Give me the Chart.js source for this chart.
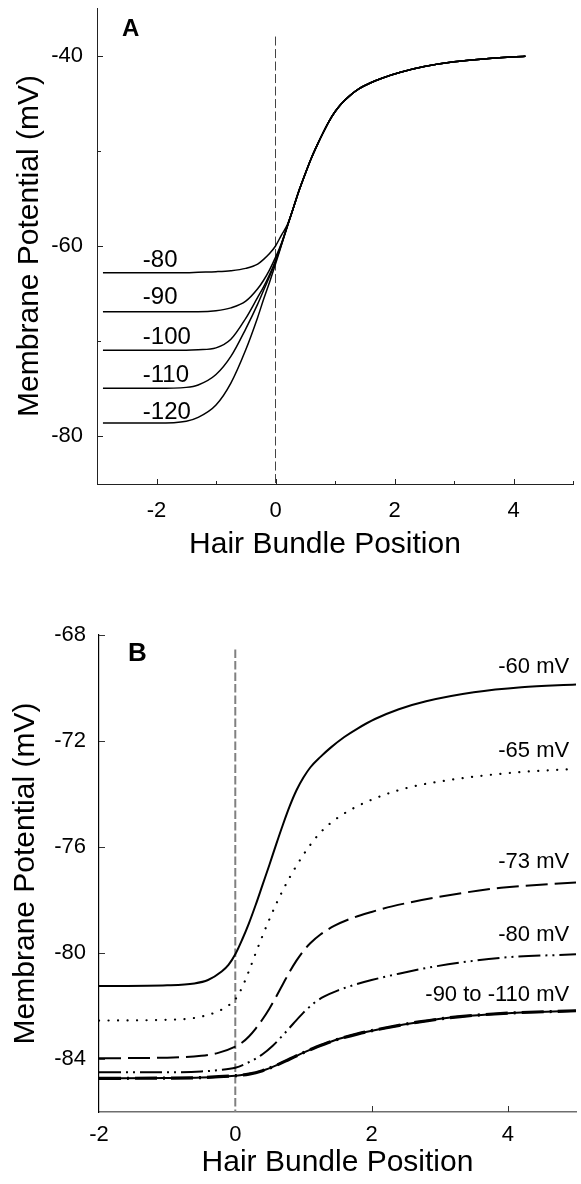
<!DOCTYPE html>
<html><head><meta charset="utf-8">
<script src="https://cdn.jsdelivr.net/npm/chart.js@4.4.1/dist/chart.umd.min.js"></script>
<style>
html,body{margin:0;padding:0;background:#fff;width:581px;height:1184px;overflow:hidden}
.box{position:absolute;left:0;width:581px}
#wa{top:0;height:580px}
#wb{top:590px;height:594px}
</style></head><body>
<div id="wa" class="box"><canvas id="ca"></canvas></div>
<div id="wb" class="box"><canvas id="cb"></canvas></div>
<script>
const FONT = "'Liberation Sans', Arial, Helvetica, sans-serif";

// ---------- Panel A data ----------
const aX    = [-2.9, -2.0, -1.5, -1.3, -1.0, -0.75, -0.5, -0.3, -0.2, -0.1, 0, 0.1, 0.2];
const aV80  = [-62.8, -62.8, -62.8, -62.75, -62.7, -62.6, -62.35, -61.9, -61.4, -60.8, -60.0, -58.85, -57.75];
const aV90  = [-66.9, -66.9, -66.9, -66.9, -66.8, -66.5, -65.8, -64.5, -63.6, -62.5, -61.2, -59.7, -57.9];
const aV100 = [-70.95, -70.95, -70.95, -70.9, -70.7, -69.8, -67.6, -65.4, -64.3, -63.0, -61.55, -59.8, -57.9];
const aV110 = [-74.95, -74.95, -74.85, -74.6, -73.5, -71.6, -68.7, -66.1, -64.65, -63.2, -61.65, -59.85, -57.9];
const aV120 = [-78.6, -78.6, -78.4, -78.0, -76.7, -74.4, -70.9, -67.5, -65.6, -63.8, -61.9, -59.9, -57.9];
const aTailX = [0.3, 0.4, 0.5, 0.6, 0.7, 0.8, 0.9, 1.0, 1.1, 1.25, 1.4, 1.6, 1.8, 2.1, 2.5, 3.0, 3.5, 4.2];
const aTailY = [-56.0, -54.1, -52.4, -50.8, -49.4, -48.1, -46.9, -45.9, -45.1, -44.2, -43.5, -42.85, -42.35, -41.75, -41.15, -40.65, -40.35, -40.07];
const aSeriesNames = ['-80', '-90', '-100', '-110', '-120'];
const aRefX = [0, 0];
const aRefY = [-38, -85];
const aYTickLabels = [-80, -60, -40];
const aXTickLabels = [-2, 0, 2, 4];
const aYMinor = [-70, -50];
const aXMinor = [-1, 1, 3, 5];

// ---------- Panel B data ----------
const bX60 = [-2, -1, -0.6, -0.4, -0.2, -0.1, 0, 0.1, 0.2, 0.3, 0.4, 0.5, 0.6, 0.7, 0.8, 0.9, 1.0, 1.1, 1.25, 1.4, 1.6, 1.8, 2.05, 2.4, 2.8, 3.5, 4.2, 5];
const bY60 = [-81.25, -81.22, -81.15, -81.02, -80.7, -80.45, -80.05, -79.5, -78.88, -78.18, -77.43, -76.68, -75.9, -75.15, -74.45, -73.85, -73.38, -73.0, -72.6, -72.25, -71.85, -71.52, -71.17, -70.8, -70.5, -70.16, -69.97, -69.87];
const bX65 = [-2, -1, -0.6, -0.3, -0.1, 0, 0.1, 0.2, 0.3, 0.4, 0.5, 0.6, 0.7, 0.8, 0.9, 1.05, 1.25, 1.5, 1.8, 2.2, 2.6, 3.4, 4.2, 5];
const bY65 = [-82.55, -82.52, -82.45, -82.25, -81.98, -81.75, -81.3, -80.68, -80.0, -79.35, -78.73, -78.15, -77.62, -77.14, -76.7, -76.1, -75.45, -74.9, -74.45, -74.02, -73.72, -73.38, -73.17, -73.05];
const bX73 = [-2, -1, -0.5, -0.25, 0, 0.1, 0.2, 0.3, 0.4, 0.5, 0.6, 0.7, 0.8, 0.9, 1.0, 1.1, 1.25, 1.45, 1.75, 2.0, 2.3, 2.95, 3.9, 5];
const bY73 = [-83.97, -83.95, -83.88, -83.77, -83.53, -83.38, -83.15, -82.85, -82.5, -82.1, -81.65, -81.17, -80.7, -80.28, -79.92, -79.63, -79.3, -78.98, -78.65, -78.45, -78.24, -77.9, -77.54, -77.34];
const bX80 = [-2, -1, -0.5, -0.25, 0, 0.2, 0.4, 0.55, 0.7, 0.85, 1.0, 1.15, 1.3, 1.5, 1.75, 2.0, 2.4, 2.95, 3.9, 5];
const bY80 = [-84.5, -84.5, -84.47, -84.42, -84.33, -84.12, -83.82, -83.5, -83.1, -82.67, -82.25, -81.9, -81.65, -81.42, -81.2, -81.02, -80.78, -80.5, -80.18, -80.05];
const bX90 = [-2, -1, -0.5, 0, 0.2, 0.4, 0.6, 0.8, 1.0, 1.2, 1.45, 1.8, 2.2, 2.7, 3.3, 4.0, 5];
const bY90 = [-84.73, -84.72, -84.7, -84.63, -84.57, -84.44, -84.24, -84.0, -83.76, -83.54, -83.3, -83.05, -82.83, -82.6, -82.4, -82.27, -82.18];
const bSeriesNames = ['-60 mV', '-65 mV', '-73 mV', '-80 mV', '-90 to -110 mV'];
const bRefX = [0, 0];
const bRefY = [-68.55, -86];
const bYTickLabels = [-84, -80, -76, -72, -68];
const bXTickLabels = [-2, 0, 2, 4];

// ---------- helpers ----------
const pts = (xs, ys) => xs.map((x, i) => ({ x: x, y: ys[i] }));
const withTail = (vals) => pts(aX, vals).concat(pts(aTailX, aTailY));

function makeDecor(spec) {
  return {
    id: 'decor',
    afterDraw(chart) {
      const { ctx, chartArea: ca, scales: { x, y } } = chart;
      ctx.save();
      ctx.strokeStyle = spec.tickColor;
      ctx.lineWidth = 1;
      ctx.beginPath();
      spec.xTicks.forEach(t => {
        const px = Math.round(x.getPixelForValue(t.v)) + 0.5;
        ctx.moveTo(px, ca.bottom); ctx.lineTo(px, ca.bottom - t.len);
      });
      spec.yTicks.forEach(t => {
        const py = Math.round(y.getPixelForValue(t.v)) + 0.5;
        ctx.moveTo(ca.left, py); ctx.lineTo(ca.left + t.len, py);
      });
      ctx.stroke();
      ctx.fillStyle = '#000';
      ctx.textBaseline = 'middle';
      spec.labels.forEach(l => {
        ctx.font = spec.labelFont;
        ctx.textAlign = spec.labelAlign;
        ctx.fillText(l.text, x.getPixelForValue(l.x), y.getPixelForValue(l.y));
      });
      ctx.font = spec.letterFont;
      ctx.textAlign = 'left';
      ctx.textBaseline = 'alphabetic';
      ctx.fillText(spec.letter, ca.left + spec.letterDx, ca.top + spec.letterDy);
      if (spec.xTitle) {
        ctx.font = spec.xTitle.font;
        ctx.textAlign = 'center';
        ctx.textBaseline = 'middle';
        ctx.fillText(spec.xTitle.text, (ca.left + ca.right) / 2 + spec.xTitle.dx, ca.bottom + spec.xTitle.dy);
      }
      ctx.restore();
    }
  };
}

const fitX = (h) => (s) => { s.height = h; s.paddingLeft = 0; s.paddingRight = 0; };
const fitY = (w) => (s) => { s.width = w; s.paddingTop = 0; s.paddingBottom = 0; };

const common = {
  responsive: true,
  maintainAspectRatio: false,
  animation: false,
  events: [],
  plugins: { legend: { display: false }, tooltip: { enabled: false } },
  elements: { point: { radius: 0, hoverRadius: 0 } }
};

// ---------- Chart A ----------
const aLineStyle = { borderColor: '#000', borderWidth: 1.5, fill: false, cubicInterpolationMode: 'monotone', pointRadius: 0 };
const aSets = [aV80, aV90, aV100, aV110, aV120].map((v, i) => Object.assign({ label: aSeriesNames[i], data: withTail(v) }, aLineStyle));
aSets.push({ label: 'ref', data: pts(aRefX, aRefY), borderColor: '#444', borderWidth: 1, borderDash: [9, 3.5], tension: 0, pointRadius: 0, fill: false });

new Chart(document.getElementById('ca'), {
  type: 'line',
  data: { datasets: aSets },
  options: Object.assign({}, common, {
    layout: { padding: { left: 0, right: 8, top: 8, bottom: 0 } },
    scales: {
      x: {
        type: 'linear', min: -3, max: 5,
        afterFit: fitX(96),
        afterBuildTicks: s => { s.ticks = aXTickLabels.map(v => ({ value: v })); },
        grid: { display: false, drawTicks: false },
        border: { display: true, color: '#222', width: 1 },
        ticks: { padding: 14, color: '#000', font: { family: FONT, size: 22 }, maxRotation: 0, autoSkip: false },
        title: { display: false }
      },
      y: {
        type: 'linear', min: -85, max: -35,
        afterFit: fitY(97),
        afterBuildTicks: s => { s.ticks = aYTickLabels.map(v => ({ value: v })); },
        grid: { display: false, drawTicks: false },
        border: { display: true, color: '#222', width: 1 },
        ticks: { padding: 14, color: '#000', font: { family: FONT, size: 22 }, autoSkip: false },
        title: { display: true, text: 'Membrane Potential (mV)', color: '#000', font: { family: FONT, size: 30 }, padding: { top: 12, bottom: 0 } }
      }
    }
  }),
  plugins: [makeDecor({
    tickColor: '#222',
    xTicks: aXTickLabels.map(v => ({ v: v, len: 5 })).concat(aXMinor.map(v => ({ v: v, len: 3 }))),
    yTicks: aYTickLabels.map(v => ({ v: v, len: 6 })).concat(aYMinor.map(v => ({ v: v, len: 4 }))),
    labelFont: '24px ' + FONT,
    labelAlign: 'left',
    labels: [
      { text: aSeriesNames[0], x: -2.23, y: -61.5 },
      { text: aSeriesNames[1], x: -2.23, y: -65.4 },
      { text: aSeriesNames[2], x: -2.23, y: -69.6 },
      { text: aSeriesNames[3], x: -2.23, y: -73.6 },
      { text: aSeriesNames[4], x: -2.23, y: -77.5 }
    ],
    letter: 'A', letterFont: 'bold 24px ' + FONT, letterDx: 25, letterDy: 28,
    xTitle: { text: 'Hair Bundle Position', font: '30px ' + FONT, dx: -10, dy: 61 }
  })]
});

// ---------- Chart B ----------
const bBase = { borderColor: '#000', borderWidth: 2, fill: false, cubicInterpolationMode: 'monotone', pointRadius: 0 };
const bSets = [
  Object.assign({ label: bSeriesNames[0], data: pts(bX60, bY60) }, bBase),
  Object.assign({ label: bSeriesNames[1], data: pts(bX65, bY65) }, bBase, { borderDash: [0.1, 9.4], borderCapStyle: 'round', borderWidth: 2.2 }),
  Object.assign({ label: bSeriesNames[2], data: pts(bX73, bY73) }, bBase, { borderDash: [22, 7] }),
  Object.assign({ label: bSeriesNames[3], data: pts(bX80, bY80) }, bBase, { borderDash: [22, 5, 2, 5, 2, 5] }),
  Object.assign({ label: bSeriesNames[4], data: pts(bX90, bY90) }, bBase, { borderWidth: 2 }),
  Object.assign({ label: bSeriesNames[4] + ' (overlay)', data: pts(bX90, bY90) }, bBase, { borderWidth: 3.2, borderDash: [22, 6, 2, 6] }),
  { label: 'ref', data: pts(bRefX, bRefY), borderColor: '#808080', borderWidth: 2, borderDash: [8.5, 3], tension: 0, pointRadius: 0, fill: false }
];

new Chart(document.getElementById('cb'), {
  type: 'line',
  data: { datasets: bSets },
  options: Object.assign({}, common, {
    layout: { padding: { left: 0, right: 5, top: 45, bottom: 0 } },
    scales: {
      x: {
        type: 'linear', min: -2, max: 5,
        afterFit: fitX(72),
        afterBuildTicks: s => { s.ticks = bXTickLabels.map(v => ({ value: v })); },
        grid: { display: false, drawTicks: false },
        border: { display: true, color: '#6e6e6e', width: 1.5 },
        ticks: { padding: 10, color: '#000', font: { family: FONT, size: 22 }, maxRotation: 0, autoSkip: false },
        title: { display: true, text: 'Hair Bundle Position', color: '#000', font: { family: FONT, size: 30 }, padding: { top: 0, bottom: 3 } }
      },
      y: {
        type: 'linear', min: -86, max: -68,
        afterFit: fitY(99),
        afterBuildTicks: s => { s.ticks = bYTickLabels.map(v => ({ value: v })); },
        grid: { display: false, drawTicks: false },
        border: { display: true, color: '#000', width: 1.2 },
        ticks: { padding: 13, color: '#000', font: { family: FONT, size: 22 }, autoSkip: false },
        title: { display: true, text: 'Membrane Potential (mV)', color: '#000', font: { family: FONT, size: 30 }, padding: { top: 8, bottom: 0 } }
      }
    }
  }),
  plugins: [makeDecor({
    tickColor: '#333',
    xTicks: [2, 4].map(v => ({ v: v, len: 6 })),
    yTicks: bYTickLabels.map(v => ({ v: v, len: 6 })),
    labelFont: '22px ' + FONT,
    labelAlign: 'right',
    labels: [
      { text: bSeriesNames[0], x: 4.9, y: -69.21 },
      { text: bSeriesNames[1], x: 4.9, y: -72.36 },
      { text: bSeriesNames[2], x: 4.9, y: -76.56 },
      { text: bSeriesNames[3], x: 4.9, y: -79.31 },
      { text: bSeriesNames[4], x: 4.9, y: -81.58 }
    ],
    letter: 'B', letterFont: 'bold 26px ' + FONT, letterDx: 29, letterDy: 26
  })]
});
</script>
</body></html>
